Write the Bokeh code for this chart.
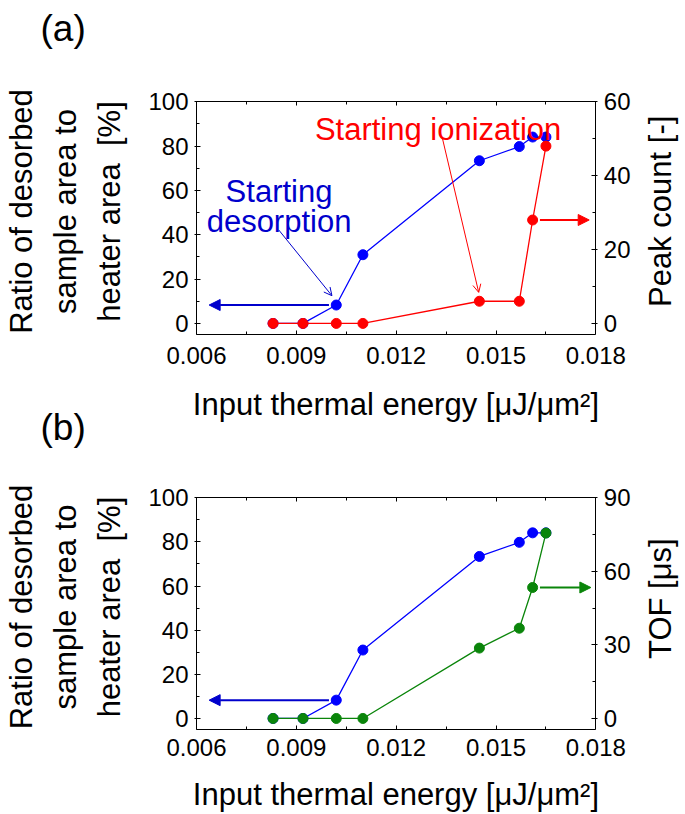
import math
from bokeh.plotting import figure
from bokeh.models import (Range1d, LinearAxis, FixedTicker, Label, Arrow,
                          NormalHead, OpenHead, Title)
from bokeh.layouts import column
from bokeh.embed import file_html
from bokeh.resources import INLINE

# ---------------- data ----------------
energy = [0.0083, 0.0092, 0.0102, 0.0110, 0.0145, 0.0157, 0.0161, 0.0165]
desorbed_ratio = [0, 0, 8.3, 31.0, 73.4, 79.8, 84.1, 84.1]
peak_count = [0, 0, 0, 0, 6, 6, 28, 48]
tof_us = [0, 0, 0, 0, 28.7, 36.8, 53.4, 75.6]

x_ticks = [0.006, 0.009, 0.012, 0.015, 0.018]
x_tick_labels = ["0.006", "0.009", "0.012", "0.015", "0.018"]
x_minor = [0.0075, 0.0105, 0.0135, 0.0165]
ratio_ticks = [0, 20, 40, 60, 80, 100]
ratio_minor = [10, 30, 50, 70, 90]
peak_ticks = [0, 20, 40, 60]
peak_minor = [10, 30, 50]
tof_ticks = [0, 30, 60, 90]
tof_minor = [15, 45, 75]

x_label = "Input thermal energy [\u03bcJ/\u03bcm\u00b2]"
ratio_label = "Ratio of desorbed\nsample area to\nheater area\u00a0 [%]"
peak_label = "Peak count [-]"
tof_label = "TOF [\u03bcs]"

# ---------------- style / layout ----------------
FONT = "Liberation Sans"
BLUE = "#0000ff"
DBLUE = "#0000cc"
RED = "#ff0000"
GREEN = "#0a850a"

W = 685
HA, HB = 459, 355
LEFT = 194            # frame left edge (px)
RIGHT_PAD = 4         # frame stops this far from the canvas edge
BOX_W = 401           # width of the boxed plot area (px)
X0, X1 = 0.006, 0.018
X_END = X0 + (X1 - X0) * (W - LEFT - RIGHT_PAD) / BOX_W
Y0, Y1 = -5, 100      # boxed area, left scale
Y_FRAME_TOP = 106     # frame reaches a little above the box (room for labels)
RIGHT_TITLE_X = X0 + (X1 - X0) * (659.5 - LEFT) / BOX_W
PAD = "\u00a0" * 10   # recentres the x title on the boxed area


def style_axis(ax, ticks, minor, tick_font="24px"):
    ax.ticker = FixedTicker(ticks=ticks, minor_ticks=minor)
    ax.major_tick_in = 4
    ax.major_tick_out = 2
    ax.minor_tick_in = 3
    ax.minor_tick_out = 0
    ax.major_tick_line_color = "black"
    ax.minor_tick_line_color = "black"
    ax.axis_line_color = "black"
    ax.major_label_text_font = FONT
    ax.major_label_text_font_size = tick_font
    ax.major_label_text_color = "black"
    ax.axis_label_text_font = FONT
    ax.axis_label_text_font_size = "31px"
    ax.axis_label_text_font_style = "normal"
    ax.axis_label_text_color = "black"


def make_panel(height, min_top, min_bottom, right_name, r_lo, r_hi, r_ticks,
               r_minor, r_title, r_title_y, xlab_standoff, tick_standoff,
               xlab_line_height=1.2):
    scale = (r_hi - r_lo) / (Y1 - Y0)
    p = figure(width=W, height=height, x_range=Range1d(X0, X_END),
               y_range=Range1d(Y0, Y_FRAME_TOP), output_backend="svg",
               toolbar_location=None, min_border_left=LEFT,
               min_border_right=RIGHT_PAD, min_border_top=min_top,
               min_border_bottom=min_bottom)
    p.grid.visible = False
    p.outline_line_color = None
    p.background_fill_color = "white"
    p.border_fill_color = "white"
    p.extra_y_ranges = {right_name: Range1d(
        r_lo, r_lo + (Y_FRAME_TOP - Y0) * scale)}

    xa = p.xaxis[0]
    style_axis(xa, x_ticks, x_minor)
    xa.bounds = (X0, X1)
    xa.major_tick_out = 0
    xa.major_label_overrides = dict(zip(x_ticks, x_tick_labels))
    xa.major_label_standoff = tick_standoff
    xa.axis_label = x_label + PAD
    xa.axis_label_standoff = xlab_standoff
    xa.axis_label_text_line_height = xlab_line_height

    ya = p.yaxis[0]
    style_axis(ya, ratio_ticks, ratio_minor)
    ya.bounds = (Y0, Y1)
    ya.major_label_standoff = 6
    ya.axis_label = ratio_label
    ya.axis_label_standoff = 18
    ya.axis_label_text_line_height = 1.27

    ra = LinearAxis(y_range_name=right_name, fixed_location=X1)
    style_axis(ra, r_ticks, r_minor)
    ra.bounds = (r_lo, r_hi)
    ra.major_label_standoff = 6
    p.add_layout(ra, "right")

    ta = LinearAxis(fixed_location=Y1)
    style_axis(ta, x_ticks, x_minor, tick_font="1px")
    ta.bounds = (X0, X1)
    ta.major_tick_out = 0
    ta.major_label_text_color = None
    p.add_layout(ta, "above")

    # right-hand axis title, reading bottom to top
    p.add_layout(Label(x=RIGHT_TITLE_X, y=r_title_y, text=r_title,
                       angle=math.pi / 2, text_font=FONT,
                       text_font_size="31px", text_color="black",
                       text_align="center", text_baseline="middle"))
    return p


# ---------------- panel (a) ----------------
pa = make_panel(HA, 88, 125, "peak", -3, 60, peak_ticks, peak_minor,
                peak_label, 50.6, 20, 12)

pa.line(energy, desorbed_ratio, line_color=BLUE, line_width=1.3)
pa.scatter(energy, desorbed_ratio, size=10, fill_color=BLUE, line_color=BLUE)
pa.line(energy, peak_count, y_range_name="peak", line_color=RED,
        line_width=1.3)
pa.scatter(energy, peak_count, y_range_name="peak", size=10, fill_color=RED,
           line_color=RED)

# direction arrows
TIP_LEFT, TIP_RIGHT, GAP = 0.00638, 0.0178, 0.00022
pa.add_layout(Arrow(end=NormalHead(size=11, fill_color=DBLUE, line_color=DBLUE),
                    x_start=energy[2] - GAP, y_start=desorbed_ratio[2],
                    x_end=TIP_LEFT, y_end=desorbed_ratio[2],
                    line_color=DBLUE, line_width=2))
pa.add_layout(Arrow(end=NormalHead(size=11, fill_color=RED, line_color=RED),
                    x_start=energy[6] + GAP, y_start=peak_count[6],
                    x_end=TIP_RIGHT, y_end=peak_count[6],
                    y_range_name="peak", line_color=RED, line_width=2))

# annotations
pa.add_layout(Label(x=0.00848, y=59.6, text="Starting", text_font=FONT,
                    text_font_size="31px", text_color=DBLUE,
                    text_align="center", text_baseline="alphabetic"))
pa.add_layout(Label(x=0.00848, y=46.1, text="desorption", text_font=FONT,
                    text_font_size="31px", text_color=DBLUE,
                    text_align="center", text_baseline="alphabetic"))
pa.add_layout(Arrow(end=OpenHead(size=8, line_color=DBLUE, line_width=1),
                    x_start=0.00847, y_start=42.2, x_end=0.01007, y_end=12.5,
                    line_color=DBLUE, line_width=1))
pa.add_layout(Label(x=0.01326, y=87.7, text="Starting ionization",
                    text_font=FONT, text_font_size="31px", text_color=RED,
                    text_align="center", text_baseline="alphabetic"))
pa.add_layout(Arrow(end=OpenHead(size=8, line_color=RED, line_width=1),
                    x_start=0.01339, y_start=83.5, x_end=0.01448, y_end=14.0,
                    line_color=RED, line_width=1))

# panel letters as titles
pa.add_layout(Title(text="(a)\n\u00a0", align="left", offset=-156,
                    standoff=-14, vertical_align="top", text_line_height=1.1,
                    text_font=FONT, text_font_size="37px",
                    text_font_style="normal", text_color="black"), "above")
pa.add_layout(Title(text="(b)", align="left", offset=-156, standoff=-46,
                    text_font=FONT, text_font_size="37px",
                    text_font_style="normal", text_color="black"), "below")

# ---------------- panel (b) ----------------
pb = make_panel(HB, 25, 85, "tof", -4.5, 90, tof_ticks, tof_minor,
                tof_label, 54.3, 18, 9, 1.0)

pb.line(energy, desorbed_ratio, line_color=BLUE, line_width=1.3)
pb.scatter(energy, desorbed_ratio, size=10, fill_color=BLUE, line_color=BLUE)
pb.line(energy, tof_us, y_range_name="tof", line_color=GREEN, line_width=1.3)
pb.scatter(energy, tof_us, y_range_name="tof", size=10, fill_color=GREEN,
           line_color=GREEN)

pb.add_layout(Arrow(end=NormalHead(size=11, fill_color=DBLUE, line_color=DBLUE),
                    x_start=energy[2] - GAP, y_start=desorbed_ratio[2],
                    x_end=TIP_LEFT, y_end=desorbed_ratio[2],
                    line_color=DBLUE, line_width=2))
pb.add_layout(Arrow(end=NormalHead(size=11, fill_color=GREEN, line_color=GREEN),
                    x_start=energy[6] + GAP, y_start=tof_us[6],
                    x_end=TIP_RIGHT + 0.00005, y_end=tof_us[6],
                    y_range_name="tof", line_color=GREEN, line_width=2))

layout = column(pa, pb, spacing=0)
open("out.html", "w").write(file_html(layout, INLINE))
